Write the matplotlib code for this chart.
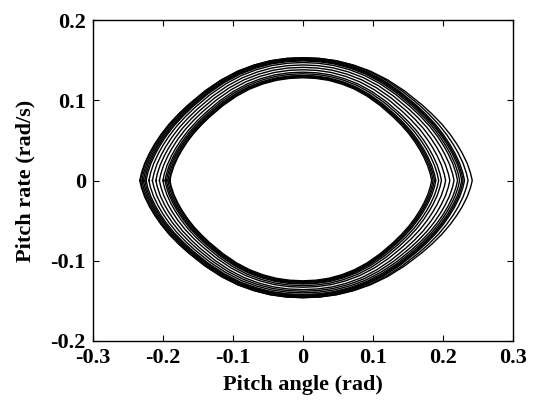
import numpy as np
import matplotlib
matplotlib.use("Agg")
import matplotlib.pyplot as plt

# Shared normalised half-orbit profile
# (fraction of tip angle -> fraction of peak pitch rate)
profile_u = [0, 0.1, 0.2, 0.3, 0.4, 0.5, 0.6, 0.7, 0.76, 0.82, 0.87, 0.91, 0.94, 0.97, 0.99, 1.0]
profile_v = [1, 0.994, 0.975, 0.94, 0.89, 0.82, 0.73, 0.62, 0.545, 0.46, 0.375, 0.295, 0.225, 0.14, 0.06, 0.0]

# Extents of each loop of the trajectory (rad, rad/s)
right_tip = [0.184, 0.186, 0.188, 0.190, 0.194, 0.198, 0.204, 0.210, 0.216, 0.221, 0.224, 0.227, 0.229, 0.231, 0.236, 0.242]
left_tip  = [-0.190, -0.191, -0.193, -0.195, -0.197, -0.200, -0.205, -0.210, -0.215, -0.220, -0.224, -0.226, -0.228, -0.230, -0.232, -0.233]
top_rate  = [0.128, 0.129, 0.130, 0.131, 0.133, 0.135, 0.138, 0.141, 0.144, 0.147, 0.149, 0.150, 0.151, 0.152, 0.153, 0.153]
bot_rate  = [-0.125, -0.126, -0.127, -0.128, -0.129, -0.131, -0.133, -0.136, -0.138, -0.140, -0.142, -0.143, -0.144, -0.145, -0.146, -0.146]

x_ticks = [-0.3, -0.2, -0.1, 0, 0.1, 0.2, 0.3]
y_ticks = [-0.2, -0.1, 0, 0.1, 0.2]
x_ticklabels = ["-0.3", "-0.2", "-0.1", "0", "0.1", "0.2", "0.3"]
y_ticklabels = ["-0.2", "-0.1", "0", "0.1", "0.2"]

plt.rcParams['font.family'] = ['Liberation Serif', 'DejaVu Serif']

fig = plt.figure(figsize=(5.37, 4.00), dpi=100)
ax = fig.add_axes([0.173, 0.1475, 0.782, 0.8025])

pu = np.array(profile_u)
pv = np.array(profile_v)
for r, l, t, b in zip(right_tip, left_tip, top_rate, bot_rate):
    xs = np.concatenate([l * pu[::-1], r * pu[1:], r * pu[::-1][1:], l * pu[1:]])
    ys = np.concatenate([t * pv[::-1], t * pv[1:], b * pv[::-1][1:], b * pv[1:]])
    ax.plot(xs, ys, color='black', lw=1.0)

ax.set_xlim(-0.3, 0.3)
ax.set_ylim(-0.2, 0.2)
ax.set_xticks(x_ticks)
ax.set_xticklabels(x_ticklabels)
ax.set_yticks(y_ticks)
ax.set_yticklabels(y_ticklabels)
ax.tick_params(direction='in', length=4, width=0.8, top=True, right=True,
               labelsize=16, pad=5)
for lab in ax.get_xticklabels() + ax.get_yticklabels():
    lab.set_fontweight('bold')
for s in ax.spines.values():
    s.set_linewidth(1.0)

ax.set_xlabel("Pitch angle (rad)", fontsize=16, fontweight='bold', labelpad=5)
ax.set_ylabel("Pitch rate (rad/s)", fontsize=16, fontweight='bold', labelpad=11)

fig.savefig("out.png", dpi=100)
